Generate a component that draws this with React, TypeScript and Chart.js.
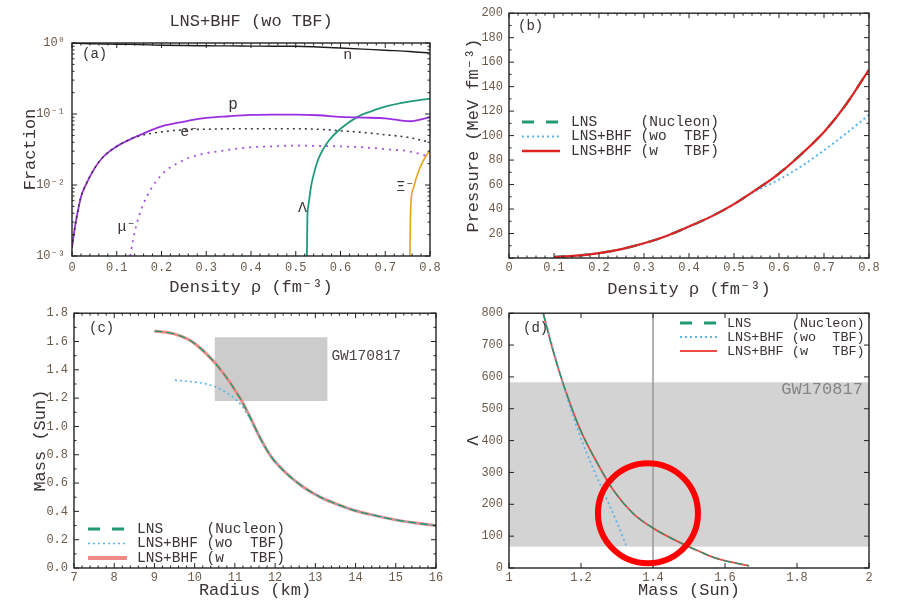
import React, { useEffect, useRef } from 'react';
import { Chart, registerables } from 'chart.js';

Chart.register(...registerables);

const MONO = "'Liberation Mono', 'DejaVu Sans Mono', monospace";
const INK = '#3c3434';
const TICK_INK = '#6b5a4a';
const FRAME = '#222222';

const GREEN = '#1f9a6e';
const SKY = '#5ab4e8';
const RED = '#e02222';
const RED_LIGHT = '#f08a86';
const RED_THIN = '#ee4a46';

// ---------- (a) particle fractions, LNS+BHF without TBF ----------
const rhoNucl = [0, 0.005, 0.01, 0.02, 0.03, 0.05, 0.07, 0.1, 0.13, 0.15, 0.2, 0.25, 0.3, 0.35, 0.4, 0.45, 0.5, 0.55, 0.6, 0.65, 0.7, 0.755, 0.8];
const fracN = [0.99, 0.99, 0.99, 0.985, 0.98, 0.975, 0.97, 0.96, 0.955, 0.95, 0.93, 0.92, 0.915, 0.91, 0.905, 0.9, 0.9, 0.88, 0.85, 0.82, 0.79, 0.76, 0.72];
const fracP = [0.0013, 0.0022, 0.0034, 0.0068, 0.0098, 0.017, 0.025, 0.035, 0.044, 0.05, 0.067, 0.078, 0.088, 0.093, 0.097, 0.098, 0.098, 0.096, 0.091, 0.089, 0.087, 0.079, 0.09];
const rhoElec = [0, 0.005, 0.01, 0.02, 0.03, 0.05, 0.07, 0.1, 0.13, 0.15, 0.2, 0.25, 0.3, 0.35, 0.4, 0.45, 0.5, 0.55, 0.6, 0.65, 0.7, 0.75, 0.8];
const fracElec = [0.0013, 0.0022, 0.0034, 0.0068, 0.0098, 0.017, 0.025, 0.035, 0.044, 0.049, 0.056, 0.06, 0.061, 0.062, 0.062, 0.062, 0.062, 0.061, 0.058, 0.055, 0.051, 0.047, 0.04];
const rhoMuon = [0.13, 0.135, 0.141, 0.15, 0.16, 0.175, 0.19, 0.21, 0.234, 0.26, 0.294, 0.33, 0.361, 0.4, 0.45, 0.5, 0.55, 0.6, 0.65, 0.7, 0.75, 0.8];
const fracMuon = [0.001, 0.0015, 0.0023, 0.0037, 0.0055, 0.0085, 0.0117, 0.016, 0.02, 0.024, 0.0277, 0.03, 0.032, 0.034, 0.035, 0.036, 0.0355, 0.035, 0.034, 0.032, 0.03, 0.025];
const rhoLambda = [0.525, 0.526, 0.528, 0.534, 0.54, 0.549, 0.56, 0.575, 0.6, 0.638, 0.67, 0.698, 0.75, 0.8];
const fracLambda = [0.001, 0.0035, 0.005, 0.0094, 0.014, 0.022, 0.031, 0.043, 0.062, 0.091, 0.11, 0.126, 0.148, 0.165];
const rhoXi = [0.755, 0.756, 0.758, 0.763, 0.77, 0.785, 0.8];
const fracXi = [0.001, 0.003, 0.0063, 0.009, 0.013, 0.022, 0.031];
const fracTickValues = [0.001, 0.01, 0.1, 1];
const fracTickLabels = ['10⁻³', '10⁻²', '10⁻¹', '10⁰'];

// ---------- (b) pressure vs density ----------
const rhoEos = [0.1, 0.15, 0.2, 0.25, 0.3, 0.35, 0.4, 0.45, 0.5, 0.55, 0.6, 0.65, 0.7, 0.75, 0.8];
const presNucleon = [0.8, 1.9, 4, 7.3, 12, 18, 25.7, 34, 44, 56, 69, 85, 103, 126, 154];
const presWithTbf = [0.8, 1.9, 4, 7.3, 12, 18, 25.7, 34, 44, 56, 69, 85, 103, 126, 154];
const rhoWoTbf = [0.1, 0.15, 0.2, 0.25, 0.3, 0.35, 0.4, 0.45, 0.5, 0.53, 0.55, 0.6, 0.65, 0.7, 0.75, 0.8];
const presWoTbf = [0.8, 1.9, 4, 7.3, 12, 18, 25.7, 34, 44, 51, 55, 64, 75, 88, 102, 117];

// ---------- (c) mass-radius ----------
const radiusNucleon = [9.0, 9.3, 9.64, 9.9, 10.13, 10.3, 10.5, 10.7, 10.88, 11.05, 11.17, 11.38, 11.62, 11.91, 12.29, 12.7, 13.12, 13.5, 14.0, 14.5, 15.0, 15.5, 16.0];
const massNucleon = [1.674, 1.665, 1.64, 1.605, 1.556, 1.51, 1.451, 1.38, 1.31, 1.235, 1.18, 1.064, 0.923, 0.783, 0.666, 0.572, 0.501, 0.455, 0.404, 0.37, 0.34, 0.318, 0.3];
const radiusWithTbf = [9.0, 9.3, 9.64, 9.9, 10.13, 10.3, 10.5, 10.7, 10.88, 11.05, 11.17, 11.38, 11.62, 11.91, 12.29, 12.7, 13.12, 13.5, 14.0, 14.5, 15.0, 15.5, 16.0];
const massWithTbf = [1.674, 1.665, 1.64, 1.605, 1.556, 1.51, 1.451, 1.38, 1.31, 1.235, 1.18, 1.064, 0.923, 0.783, 0.666, 0.572, 0.501, 0.455, 0.404, 0.37, 0.34, 0.318, 0.3];
const radiusWoTbf = [9.51, 9.88, 10.3, 10.63, 10.96, 11.17, 11.33, 11.5, 11.62, 11.91, 12.29, 12.7, 13.12, 13.5, 14.0, 14.5, 15.0, 15.5, 16.0];
const massWoTbf = [1.327, 1.317, 1.299, 1.264, 1.205, 1.146, 1.076, 0.99, 0.923, 0.783, 0.666, 0.572, 0.501, 0.455, 0.404, 0.37, 0.34, 0.318, 0.3];
const gwRadiusRange = [10.5, 13.3];
const gwMassRange = [1.18, 1.63];

// ---------- (d) tidal deformability vs mass ----------
const massTidalNucleon = [1.095, 1.123, 1.151, 1.197, 1.244, 1.29, 1.345, 1.399, 1.457, 1.531, 1.577, 1.667];
const lambdaNucleon = [800, 680, 577, 437, 332, 244, 171, 126, 90, 51, 30, 7];
const massTidalWithTbf = [1.095, 1.123, 1.151, 1.197, 1.244, 1.29, 1.345, 1.399, 1.457, 1.531, 1.577, 1.667];
const lambdaWithTbf = [800, 680, 577, 437, 332, 244, 171, 126, 90, 51, 30, 7];
const massTidalWoTbf = [1.095, 1.123, 1.16, 1.197, 1.234, 1.271, 1.299, 1.325];
const lambdaWoTbf = [800, 686, 541, 416, 312, 218, 145, 72];
const gwLambdaRange = [67, 583];
const canonicalMass = 1.4;
const highlightCenter = { mass: 1.386, lambda: 172 };

const LEGEND_LABELS = ['LNS     (Nucleon)', 'LNS+BHF (wo  TBF)', 'LNS+BHF (w   TBF)'];

type Pt = { x: number; y: number };
const zip = (xs: number[], ys: number[]): Pt[] => xs.map((x, i) => ({ x, y: ys[i] }));

const trimNum = (v: number) => String(Number(Number(v).toFixed(1)));

interface LegendSpec {
  left: number;
  top: number;
  row: number;
  sample: number;
  gap: number;
  size: number;
  widths: number[];
  dashes: number[][];
}

interface Note {
  text: string;
  x: number;
  y: number;
  size: number;
  color?: string;
  align?: CanvasTextAlign;
}

interface Decor {
  title?: { text: string; y: number; size: number };
  panel: { text: string; dx: number; dy: number };
  minorX: number;
  minorY: number;
  logY?: boolean;
  legend?: LegendSpec;
  notes?: Note[];
  band?: { lo: number; hi: number; color: string };
  box?: { x0: number; x1: number; y0: number; y1: number; color: string };
  vline?: { x: number; color: string };
  ring?: { x: number; y: number; r: number; width: number; color: string };
}

function putText(ctx: CanvasRenderingContext2D, s: string, x: number, y: number, size: number, color: string, align: CanvasTextAlign = 'left') {
  ctx.font = `${size}px ${MONO}`;
  ctx.fillStyle = color;
  ctx.textAlign = align;
  ctx.textBaseline = 'middle';
  ctx.fillText(s, x, y);
}

function decor(d: Decor) {
  return {
    id: 'decor',
    beforeDatasetsDraw(chart: any) {
      const { ctx, chartArea: a, scales } = chart;
      const x = scales.x;
      const y = scales.y;
      ctx.save();
      if (d.band) {
        const t = y.getPixelForValue(d.band.hi);
        const b = y.getPixelForValue(d.band.lo);
        ctx.fillStyle = d.band.color;
        ctx.fillRect(a.left, t, a.right - a.left, b - t);
      }
      if (d.box) {
        const l = x.getPixelForValue(d.box.x0);
        const r = x.getPixelForValue(d.box.x1);
        const t = y.getPixelForValue(d.box.y1);
        const b = y.getPixelForValue(d.box.y0);
        ctx.fillStyle = d.box.color;
        ctx.fillRect(l, t, r - l, b - t);
      }
      if (d.vline) {
        const px = x.getPixelForValue(d.vline.x);
        ctx.strokeStyle = d.vline.color;
        ctx.lineWidth = 1.5;
        ctx.beginPath();
        ctx.moveTo(px, a.top);
        ctx.lineTo(px, a.bottom);
        ctx.stroke();
      }
      ctx.restore();
    },
    afterDraw(chart: any) {
      const { ctx, chartArea: a, scales } = chart;
      const x = scales.x;
      const y = scales.y;
      ctx.save();

      // frame
      ctx.strokeStyle = FRAME;
      ctx.lineWidth = 1.4;
      ctx.strokeRect(a.left, a.top, a.right - a.left, a.bottom - a.top);

      // inward ticks on all four sides
      const major = 5;
      const minor = 2.5;
      ctx.lineWidth = 1;
      ctx.beginPath();
      const xTick = (v: number, len: number) => {
        const px = x.getPixelForValue(v);
        ctx.moveTo(px, a.bottom);
        ctx.lineTo(px, a.bottom - len);
        ctx.moveTo(px, a.top);
        ctx.lineTo(px, a.top + len);
      };
      const yTick = (v: number, len: number) => {
        const py = y.getPixelForValue(v);
        ctx.moveTo(a.left, py);
        ctx.lineTo(a.left + len, py);
        ctx.moveTo(a.right, py);
        ctx.lineTo(a.right - len, py);
      };
      const xv = x.ticks.map((t: any) => t.value);
      const yv = y.ticks.map((t: any) => t.value);
      xv.forEach((v: number) => xTick(v, major));
      yv.forEach((v: number) => yTick(v, major));
      for (let i = 0; i < xv.length - 1; i++) {
        for (let k = 1; k < d.minorX; k++) xTick(xv[i] + ((xv[i + 1] - xv[i]) * k) / d.minorX, minor);
      }
      if (d.logY) {
        for (let i = 0; i < yv.length - 1; i++) {
          for (let k = 2; k <= 9; k++) yTick(yv[i] * k, minor);
        }
      } else {
        for (let i = 0; i < yv.length - 1; i++) {
          for (let k = 1; k < d.minorY; k++) yTick(yv[i] + ((yv[i + 1] - yv[i]) * k) / d.minorY, minor);
        }
      }
      ctx.stroke();

      if (d.title) putText(ctx, d.title.text, (a.left + a.right) / 2, d.title.y, d.title.size, INK, 'center');
      putText(ctx, d.panel.text, a.left + d.panel.dx, a.top + d.panel.dy, 14, INK);

      (d.notes || []).forEach((n) => {
        putText(ctx, n.text, x.getPixelForValue(n.x), y.getPixelForValue(n.y), n.size, n.color || INK, n.align || 'center');
      });

      if (d.legend) {
        const lg = d.legend;
        chart.data.datasets.forEach((ds: any, i: number) => {
          const yy = lg.top + i * lg.row;
          ctx.save();
          ctx.strokeStyle = ds.borderColor;
          ctx.lineWidth = lg.widths[i];
          ctx.setLineDash(lg.dashes[i]);
          ctx.beginPath();
          ctx.moveTo(lg.left, yy);
          ctx.lineTo(lg.left + lg.sample, yy);
          ctx.stroke();
          ctx.restore();
          putText(ctx, ds.label, lg.left + lg.sample + lg.gap, yy, lg.size, INK);
        });
      }

      if (d.ring) {
        ctx.strokeStyle = d.ring.color;
        ctx.lineWidth = d.ring.width;
        ctx.beginPath();
        ctx.arc(x.getPixelForValue(d.ring.x), y.getPixelForValue(d.ring.y), d.ring.r, 0, Math.PI * 2);
        ctx.stroke();
      }
      ctx.restore();
    },
  };
}

interface AxisSpec {
  min: number;
  max: number;
  step?: number;
  title: string;
  titlePad: number;
  tickPad: number;
  size: number; // fixed box size (height for x, width for y)
  fmt: (v: number, i: number) => string;
}

function xAxis(s: AxisSpec) {
  return {
    type: 'linear',
    position: 'bottom',
    min: s.min,
    max: s.max,
    ticks: {
      stepSize: s.step,
      autoSkip: false,
      maxRotation: 0,
      padding: s.tickPad,
      color: TICK_INK,
      font: { family: MONO, size: 12 },
      callback: (v: number, i: number) => s.fmt(v, i),
    },
    grid: { display: false, drawTicks: false },
    border: { display: false },
    title: { display: true, text: s.title, color: INK, font: { family: MONO, size: 17 }, padding: { top: 0, bottom: s.titlePad } },
    afterFit: (scale: any) => {
      scale.height = s.size;
    },
  };
}

function yAxis(s: AxisSpec, log = false) {
  const base: any = {
    type: log ? 'logarithmic' : 'linear',
    position: 'left',
    min: s.min,
    max: s.max,
    ticks: {
      stepSize: s.step,
      autoSkip: false,
      padding: s.tickPad,
      color: TICK_INK,
      font: { family: MONO, size: 12 },
      callback: (v: number, i: number) => s.fmt(v, i),
    },
    grid: { display: false, drawTicks: false },
    border: { display: false },
    title: { display: true, text: s.title, color: INK, font: { family: MONO, size: 17 }, padding: { top: s.titlePad, bottom: 0 } },
    afterFit: (scale: any) => {
      scale.width = s.size;
    },
  };
  if (log) {
    base.afterBuildTicks = (scale: any) => {
      scale.ticks = fracTickValues.map((v) => ({ value: v }));
    };
  }
  return base;
}

const lineDefaults = {
  pointRadius: 0,
  pointHoverRadius: 0,
  fill: false,
  cubicInterpolationMode: 'monotone',
  borderCapStyle: 'butt',
};

function baseOptions(padding: any, x: any, y: any) {
  return {
    responsive: false,
    animation: false,
    devicePixelRatio: 1,
    layout: { padding },
    events: [],
    plugins: { legend: { display: false }, tooltip: { enabled: false }, title: { display: false } },
    scales: { x, y },
  };
}

function buildFractions(): any {
  return {
    type: 'line',
    data: {
      datasets: [
        { ...lineDefaults, label: 'n', data: zip(rhoNucl, fracN), borderColor: '#1c1c1c', borderWidth: 1.4 },
        { ...lineDefaults, label: 'e⁻', data: zip(rhoElec, fracElec), borderColor: '#3a3a3a', borderWidth: 1.6, borderDash: [2, 4] },
        { ...lineDefaults, label: 'p', data: zip(rhoNucl, fracP), borderColor: '#9a2ee0', borderWidth: 1.8 },
        { ...lineDefaults, label: 'μ⁻', data: zip(rhoMuon, fracMuon), borderColor: '#a550e6', borderWidth: 1.8, borderDash: [2, 5] },
        { ...lineDefaults, label: 'Λ', data: zip(rhoLambda, fracLambda), borderColor: '#1f9a7a', borderWidth: 1.8 },
        { ...lineDefaults, label: 'Ξ⁻', data: zip(rhoXi, fracXi), borderColor: '#eaa21c', borderWidth: 1.6 },
      ],
    },
    options: baseOptions(
      { left: 0, right: 20, top: 43, bottom: 0 },
      xAxis({ min: 0, max: 0.8, step: 0.1, title: 'Density ρ (fm⁻³)', titlePad: 2.8, tickPad: 5, size: 44, fmt: trimNum }),
      yAxis({ min: 0.001, max: 1, title: 'Fraction', titlePad: 19.8, tickPad: 7, size: 72, fmt: (_v, i) => fracTickLabels[i] ?? '' }, true),
    ),
    plugins: [
      decor({
        title: { text: 'LNS+BHF (wo TBF)', y: 21, size: 17 },
        panel: { text: '(a)', dx: 10, dy: 11 },
        minorX: 5,
        minorY: 1,
        logY: true,
        notes: [
          { text: 'n', x: 0.616, y: 0.685, size: 15 },
          { text: 'p', x: 0.36, y: 0.133, size: 16 },
          { text: 'e⁻', x: 0.262, y: 0.056, size: 15 },
          { text: 'μ⁻', x: 0.122, y: 0.0026, size: 15 },
          { text: 'Λ', x: 0.515, y: 0.0048, size: 15 },
          { text: 'Ξ⁻', x: 0.745, y: 0.0094, size: 15 },
        ],
      }),
    ],
  };
}

function buildPressure(): any {
  return {
    type: 'line',
    data: {
      datasets: [
        { ...lineDefaults, label: LEGEND_LABELS[0], data: zip(rhoEos, presNucleon), borderColor: GREEN, borderWidth: 2.5, borderDash: [12, 12], order: 2 },
        { ...lineDefaults, label: LEGEND_LABELS[1], data: zip(rhoWoTbf, presWoTbf), borderColor: SKY, borderWidth: 2, borderDash: [2, 3], order: 1 },
        { ...lineDefaults, label: LEGEND_LABELS[2], data: zip(rhoEos, presWithTbf), borderColor: RED, borderWidth: 2.2, order: 0 },
      ],
    },
    options: baseOptions(
      { left: 0, right: 30, top: 12, bottom: 0 },
      xAxis({ min: 0, max: 0.8, step: 0.1, title: 'Density ρ (fm⁻³)', titlePad: 0, tickPad: 3, size: 42, fmt: trimNum }),
      yAxis({ min: 0, max: 200, step: 20, title: 'Pressure (MeV fm⁻³)', titlePad: 12.8, tickPad: 6, size: 59, fmt: (v) => (v === 0 ? '' : String(v)) }),
    ),
    plugins: [
      decor({
        panel: { text: '(b)', dx: 9, dy: 13 },
        minorX: 5,
        minorY: 2,
        legend: { left: 72, top: 122, row: 14.5, sample: 38, gap: 11, size: 14.5, widths: [3, 2, 2.5], dashes: [[12, 12], [2, 3], []] },
      }),
    ],
  };
}

function buildMassRadius(): any {
  return {
    type: 'line',
    data: {
      datasets: [
        { ...lineDefaults, label: LEGEND_LABELS[0], data: zip(radiusNucleon, massNucleon), borderColor: GREEN, borderWidth: 1.3, borderDash: [8, 4], order: 0 },
        { ...lineDefaults, label: LEGEND_LABELS[1], data: zip(radiusWoTbf, massWoTbf), borderColor: SKY, borderWidth: 1.6, borderDash: [2, 3], order: 1 },
        { ...lineDefaults, label: LEGEND_LABELS[2], data: zip(radiusWithTbf, massWithTbf), borderColor: RED_LIGHT, borderWidth: 3, order: 2 },
      ],
    },
    options: baseOptions(
      { left: 0, right: 14, top: 12, bottom: 0 },
      xAxis({ min: 7, max: 16, step: 1, title: 'Radius (km)', titlePad: 0.8, tickPad: 3, size: 33, fmt: trimNum }),
      yAxis({ min: 0, max: 1.8, step: 0.2, title: 'Mass (Sun)', titlePad: 29.8, tickPad: 6, size: 74, fmt: (v) => Number(v).toFixed(1) }),
    ),
    plugins: [
      decor({
        panel: { text: '(c)', dx: 15, dy: 15 },
        minorX: 5,
        minorY: 2,
        box: { x0: gwRadiusRange[0], x1: gwRadiusRange[1], y0: gwMassRange[0], y1: gwMassRange[1], color: '#cccccc' },
        notes: [{ text: 'GW170817', x: 13.4, y: 1.5, size: 14.5, color: '#4a4444', align: 'left' }],
        legend: { left: 88, top: 229, row: 14.5, sample: 39, gap: 10, size: 14.5, widths: [3, 1.6, 4], dashes: [[12, 12], [2, 3], []] },
      }),
    ],
  };
}

function buildTidal(): any {
  return {
    type: 'line',
    data: {
      datasets: [
        { ...lineDefaults, label: LEGEND_LABELS[0], data: zip(massTidalNucleon, lambdaNucleon), borderColor: GREEN, borderWidth: 1.3, borderDash: [8, 4], order: 0 },
        { ...lineDefaults, label: LEGEND_LABELS[1], data: zip(massTidalWoTbf, lambdaWoTbf), borderColor: SKY, borderWidth: 1.8, borderDash: [2, 3], order: 1 },
        { ...lineDefaults, label: LEGEND_LABELS[2], data: zip(massTidalWithTbf, lambdaWithTbf), borderColor: RED_THIN, borderWidth: 1.8, order: 2 },
      ],
    },
    options: baseOptions(
      { left: 0, right: 30, top: 12, bottom: 0 },
      xAxis({ min: 1, max: 2, step: 0.2, title: 'Mass (Sun)', titlePad: 0.8, tickPad: 3, size: 33, fmt: trimNum }),
      yAxis({ min: 0, max: 800, step: 100, title: 'Λ', titlePad: 12.8, tickPad: 6, size: 59, fmt: (v) => String(v) }),
    ),
    plugins: [
      decor({
        panel: { text: '(d)', dx: 14, dy: 15 },
        minorX: 1,
        minorY: 1,
        band: { lo: gwLambdaRange[0], hi: gwLambdaRange[1], color: '#d3d3d3' },
        vline: { x: canonicalMass, color: '#999999' },
        notes: [{ text: 'GW170817', x: 1.983, y: 561, size: 17, color: '#858585', align: 'right' }],
        legend: { left: 230, top: 23, row: 14, sample: 37, gap: 10, size: 13.5, widths: [3, 2, 2], dashes: [[12, 12], [2, 3], []] },
        ring: { x: highlightCenter.mass, y: highlightCenter.lambda, r: 50, width: 6, color: '#ff0000' },
      }),
    ],
  };
}

function Panel({ left, top, width, height, build }: { left: number; top: number; width: number; height: number; build: () => any }) {
  const ref = useRef<HTMLCanvasElement>(null);
  useEffect(() => {
    if (!ref.current) return;
    const chart = new Chart(ref.current, build());
    return () => chart.destroy();
  }, [build]);
  return (
    <canvas
      ref={ref}
      width={width}
      height={height}
      style={{ position: 'absolute', left, top, width, height, display: 'block' }}
    />
  );
}

export default function App() {
  return (
    <div style={{ position: 'absolute', left: 0, top: 0, width: 899, height: 601, background: '#ffffff', overflow: 'hidden' }}>
      <Panel left={0} top={0} width={450} height={300} build={buildFractions} />
      <Panel left={450} top={0} width={449} height={300} build={buildPressure} />
      <Panel left={0} top={300} width={450} height={301} build={buildMassRadius} />
      <Panel left={450} top={300} width={449} height={301} build={buildTidal} />
    </div>
  );
}
